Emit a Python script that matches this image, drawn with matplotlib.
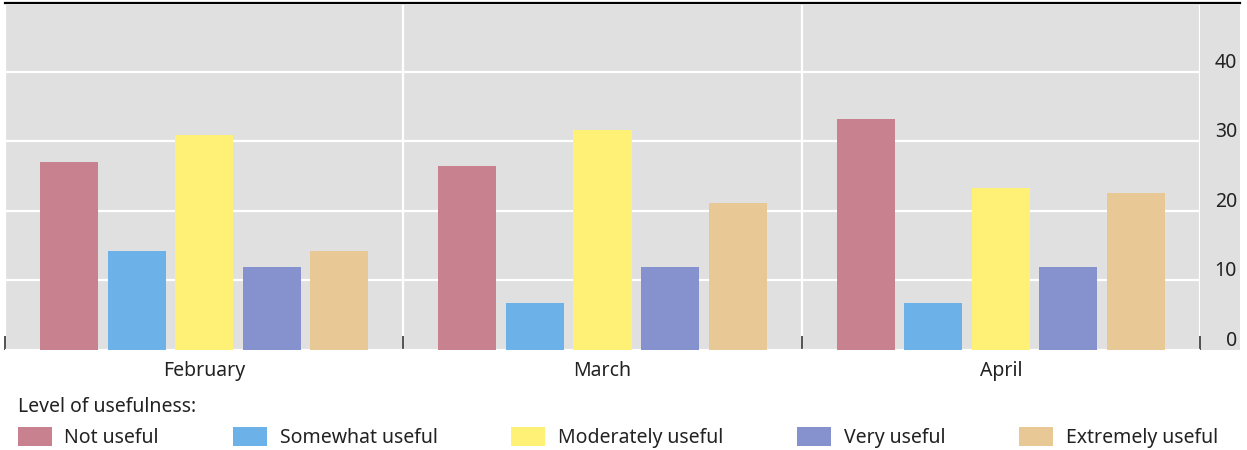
import matplotlib
matplotlib.use("Agg")
import matplotlib.pyplot as plt
import numpy as np
from matplotlib.lines import Line2D
from matplotlib.patches import Rectangle
import matplotlib.transforms as mtransforms

months = ["February", "March", "April"]
levels = ["Not useful", "Somewhat useful", "Moderately useful", "Very useful", "Extremely useful"]
not_useful = [27.1, 26.4, 33.2]
somewhat_useful = [14.2, 6.7, 6.7]
moderately_useful = [30.9, 31.7, 23.3]
very_useful = [12.0, 12.0, 12.0]
extremely_useful = [14.2, 21.1, 22.5]
series = [not_useful, somewhat_useful, moderately_useful, very_useful, extremely_useful]
colors = ["#C8828F", "#6CB2E8", "#FFF176", "#8592CD", "#E8C894"]
yticks = [0, 10, 20, 30, 40]

plt.rcParams['font.family'] = ['Noto Sans', 'DejaVu Sans']
W, H = 1247, 450
fig = plt.figure(figsize=(W / 100, H / 100), dpi=100)
bg = "#E0E0E0"
FS = 14

# gray panel extending beyond axes (tick label area)
fig.patches.append(Rectangle((5 / W, 1 - 350 / H), (1240 - 5) / W, (350 - 5) / H,
                             transform=fig.transFigure, facecolor=bg, edgecolor='none', zorder=-10))
fig.lines.append(Line2D([5 / W, 1240 / W], [1 - 2.5 / H, 1 - 2.5 / H], transform=fig.transFigure,
                        color="black", lw=1.6, zorder=5))

ax = fig.add_axes([5 / W, 1 - 350 / H, (1200 - 5) / W, (350 - 5) / H])
ax.set_facecolor(bg)
for s in ax.spines.values():
    s.set_visible(False)

x = np.arange(len(months))
pitch = 0.1696
width = 0.146
for i, (vals, c, lab) in enumerate(zip(series, colors, levels)):
    ax.bar(x + (i - 2) * pitch, vals, width=width, color=c, label=lab, zorder=3)

ax.set_xlim(-0.5, 2.5)
ax.set_ylim(0, 49.6)
ax.set_yticks(yticks)
ax.yaxis.set_tick_params(length=0, labelleft=False)
ax.grid(axis='y', color='white', lw=1.6, zorder=1)

ax.set_xticks(x)
ax.set_xticklabels(months, fontsize=FS, color="#222222")
ax.tick_params(axis='x', which='major', length=0, pad=8)
ax.set_xticks([-0.5, 0.5, 1.5, 2.5], minor=True)
ax.tick_params(axis='x', which='minor', direction='in', length=10, width=1.3, color="#444444")
ax.grid(axis='x', which='minor', color='white', lw=1.6, zorder=1)
ax.set_axisbelow(True)

trans = mtransforms.blended_transform_factory(ax.transAxes, ax.transData)
for t in yticks:
    ax.text((1237 - 5) / (1200 - 5), t + 0.6, str(t), transform=trans, ha='right', va='baseline',
            fontsize=FS, color="#222222", clip_on=False)

handles, labels = ax.get_legend_handles_labels()
leg = fig.legend(handles, labels, ncol=5, loc='lower left',
                 bbox_to_anchor=(10 / W, -6 / H, (1226 - 10) / W, 0.12), mode='expand',
                 frameon=False, fontsize=FS, title="Level of usefulness:", title_fontsize=FS,
                 alignment='left', handlelength=1.75, handleheight=1.15, handletextpad=0.65,
                 borderaxespad=0.0, labelcolor="#222222")
leg.get_title().set_color("#222222")

fig.savefig("out.png", dpi=100, facecolor='white')
